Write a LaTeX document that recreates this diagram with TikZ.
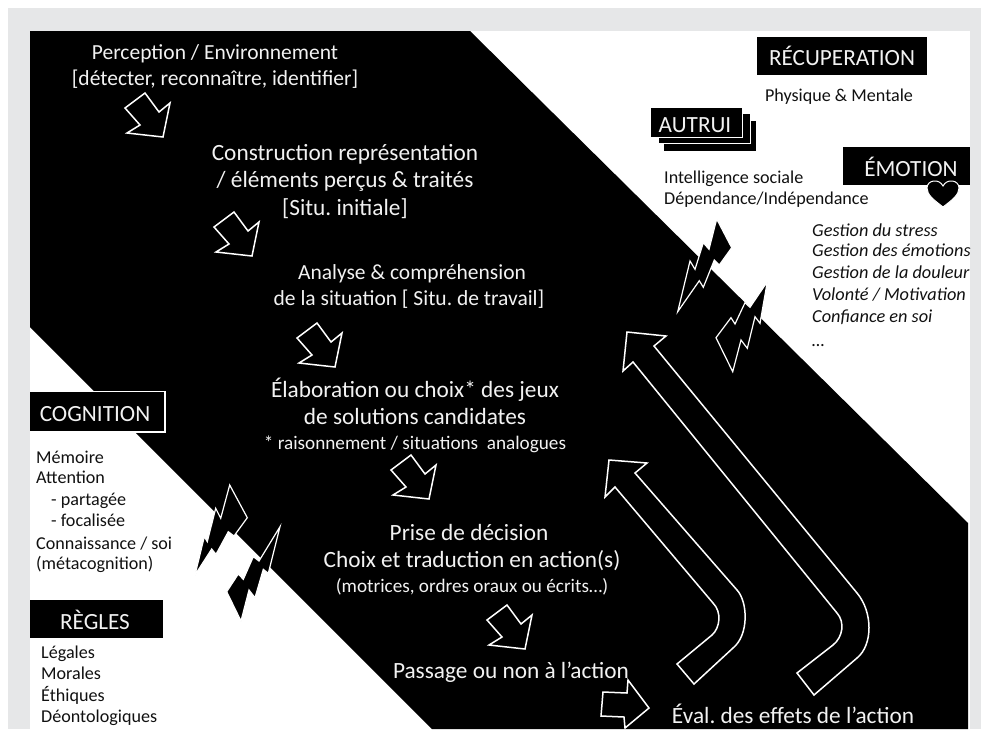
\documentclass[tikz,border=0pt]{standalone}
\usepackage{fontspec}
\setmainfont{Carlito}
\definecolor{panelgray}{HTML}{E6E7E8}
\definecolor{softwhite}{HTML}{F2F2F2}
\definecolor{inkdark}{HTML}{111111}
\newcommand{\fsz}[1]{\fontsize{#1}{#1}\selectfont\frenchspacing}
\tikzset{
  x=1pt,y=-1pt,
  outlined/.style={draw=white,line width=1.5pt,fill=black,line join=miter},
  bolt/.style={draw=white,line width=1.2pt,fill=black,line join=miter},
  sized/.style={font=\fsz{#1},text height={0.84*#1 pt},text depth={0.14*#1 pt},inner sep=0pt},
  maintext/.style={text=softwhite,sized=#1,anchor=center},
  boxtitle/.style={text=softwhite,sized=23.2,anchor=center},
  sidetext/.style={text=inkdark,sized=18.1,anchor=west},
  sideital/.style={text=inkdark,sized=18.3,anchor=west,font=\fsz{18.3}\itshape},
  pics/stepdown/.style={code={
    \draw[outlined] (0,0)--(14,19)--(25,10)--(18,44)--(-18,40)--(-5,32)--(-20,15)--cycle;
  }}
}
\begin{document}
\begin{tikzpicture}
\useasboundingbox (0,0) rectangle (981,729);
\fill[white] (0,0) rectangle (981,729);
\fill[panelgray] (8,8) rectangle (981,729);
\fill[white] (30,31) rectangle (970,729);
\fill[black] (30,31)--(470,31)--(968,523)--(968,729)--(432,729)--(30,327)--cycle;

% small step arrows
\pic at (145,93) {stepdown};
\pic at (234,212) {stepdown};
\pic at (317,323) {stepdown};
\pic at (411,455) {stepdown};
\pic at (507,605) {stepdown};
\draw[outlined] (628,680)--(649,708)--(625,728)--(624,717)--(601,716)--(603,692)--(627,693)--cycle;

% large feedback arrows
\draw[outlined] (609,460)--(647,463)--(635,473)--(737,590)
  .. controls (748,602) and (749,635) .. (733,648)
  --(694,684)--(677,664)--(712,635)
  .. controls (720,628) and (722,612) .. (713,603)
  --(615,487)--(605,497)--cycle;
\draw[outlined] (627,332)--(666,336)--(654,346)--(857,593)
  .. controls (873,612) and (873,645) .. (857,658)
  --(814,695)--(797,673)--(833,645)
  .. controls (843,637) and (845,622) .. (837,613)
  --(633,362)--(623,371)--cycle;

% lightning bolts
\draw[bolt] (716.7,219)--(731.7,247.7)--(719.3,265)--(714.3,260)--(703.3,287.3)--(699.3,280.7)--(677.7,311.7)--(690,261)--(695,269.3)--(703.3,242.7)--(709,249.3)--cycle;
\draw[bolt] (767.3,281.7)--(760,323.3)--(755,316.7)--(747.3,348.3)--(741,340)--(732.7,371.7)--(716,337.7)--(731,317.7)--(735,324)--(745,302.7)--(750,307.3)--cycle;
\draw[bolt] (229.7,485)--(247.3,517.7)--(234,536)--(228.3,531.7)--(216,554.3)--(211.7,549)--(195,575)--(204.3,536.7)--(207.3,541.7)--(215.7,508.3)--(220.7,518.3)--cycle;
\draw[bolt] (280,526.7)--(268.3,573.3)--(263.3,569.3)--(255,597.7)--(249,590)--(241,621)--(226.7,591.7)--(238.3,574)--(243.3,579.3)--(253.3,556.7)--(259,561)--cycle;

% main process text
\node[maintext=21.5] (perc1) at (215,52) {Perception / Environnement};
\node[maintext=21.5] (perc2) at (215,78) {[détecter, reconnaître, identifier]};
\node[maintext=23.3] (cons1) at (345,152) {Construction représentation};
\node[maintext=23.3] (cons2) at (345,179) {/ éléments perçus \& traités};
\node[maintext=23.3] (cons3) at (345,207) {[Situ. initiale]};
\node[maintext=21.5] (anal1) at (412,272) {Analyse \& compréhension};
\node[maintext=21.5] (anal2) at (409,298) {de la situation [ Situ. de travail]};
\node[maintext=23.3] (elab1) at (415,389) {Élaboration ou choix* des jeux};
\node[maintext=23.3] (elab2) at (415,416) {de solutions candidates};
\node[maintext=19.2] (elab3) at (415,443) {* raisonnement / situations\ \ analogues};
\node[maintext=23.3] (pris1) at (469,532) {Prise de décision};
\node[maintext=23.3] (pris2) at (472,559) {Choix et traduction en action(s)};
\node[maintext=19.2] (pris3) at (472,586) {(motrices, ordres oraux ou écrits…)};
\node[maintext=23.3] (pass) at (511,670) {Passage ou non à l’action};
\node[maintext=23.3] (eval) at (793,715) {Éval. des effets de l’action};

% title boxes
\fill[black] (757,37) rectangle (927,75);
\node[boxtitle] (recup) at (842,57) {RÉCUPERATION};
\node[sidetext,anchor=center] (phys) at (839,95) {Physique \& Mentale};

\draw[outlined,line width=1pt] (663,120) rectangle (756,151);
\draw[outlined,line width=1pt] (658,113) rectangle (750,143);
\draw[outlined,line width=1pt] (650,107) rectangle (742,137);
\node[boxtitle] (autrui) at (695,124) {AUTRUI};

\fill[black] (843,147) rectangle (970,185);
\node[boxtitle] (emot) at (911,168) {ÉMOTION};
\draw[draw=white,line width=1pt,fill=black] (943,207)
  .. controls (934,200) and (927,195) .. (927,188)
  .. controls (927,180) and (939,178) .. (943,186)
  .. controls (947,178) and (959,180) .. (959,188)
  .. controls (959,195) and (952,200) .. (943,207) -- cycle;

\node[sidetext] (soc1) at (664,177) {Intelligence sociale};
\node[sidetext] (soc2) at (664,198) {Dépendance/Indépendance};

\node[sideital] (ge1) at (812,230) {Gestion du stress};
\node[sideital] (ge2) at (812,250) {Gestion des émotions};
\node[sideital] (ge3) at (812,272) {Gestion de la douleur};
\node[sideital] (ge4) at (812,294) {Volonté / Motivation};
\node[sideital] (ge5) at (812,316) {Confiance en soi};
\node[sideital] (ge6) at (812,340) {…};

\draw[draw=white,line width=1.4pt,fill=black] (30,391.5)--(165,391.5)--(165,432)--(30,432);
\node[boxtitle] (cogn) at (95,413) {COGNITION};
\node[sidetext] (cg1) at (36,457) {Mémoire};
\node[sidetext] (cg2) at (36,477) {Attention};
\node[sidetext] (cg3) at (51,499) {- partagée};
\node[sidetext] (cg4) at (51,520) {- focalisée};
\node[sidetext] (cg5) at (36,543) {Connaissance / soi};
\node[sidetext] (cg6) at (36,563) {(métacognition)};

\fill[black] (30,600) rectangle (163,638);
\node[boxtitle] (regl) at (95,621) {RÈGLES};
\node[sidetext] (rg1) at (41,652) {Légales};
\node[sidetext] (rg2) at (41,673) {Morales};
\node[sidetext] (rg3) at (41,695) {Éthiques};
\node[sidetext] (rg4) at (41,716) {Déontologiques};
\end{tikzpicture}
\end{document}
